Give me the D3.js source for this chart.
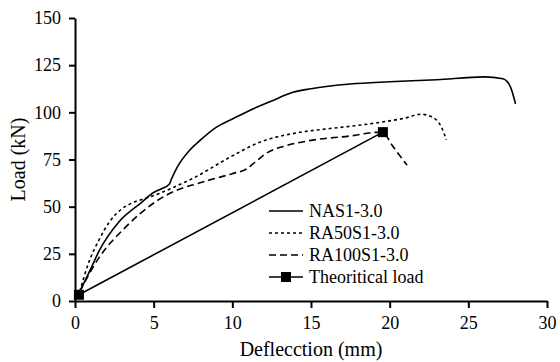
<!DOCTYPE html>
<html>
<head>
<meta charset="utf-8">
<script src="https://cdn.jsdelivr.net/npm/d3@7"></script>
<style>
  body { margin: 0; background: #fff; }
  text { font-family: "Liberation Serif", "Times New Roman", serif; fill: #000; }
</style>
</head>
<body>
<svg id="chart"></svg>
<script>
var width = 560,
  height = 362,
  margin = { top: 18, right: 13, bottom: 61, left: 75 };

// deflection (mm), load (kN)
var nasX = [0.3, 1, 1.5, 2.8, 4.2, 5, 5.5, 6, 6.15, 6.5, 7.27, 8, 8.97, 10, 11.1, 12.5, 13.85, 15, 17.5, 20, 23, 26, 27.2, 27.7, 28];
var nasY = [5, 17, 26, 42, 52, 57.5, 59.5, 62, 65, 71, 79.8, 85.5, 92, 96.5, 101, 106, 110.6, 112.5, 115, 116.2, 117.3, 118.8, 117.8, 113, 104.5];

var ra50X = [0.3, 0.9, 1.5, 2.2, 3, 3.64, 4.5, 5.35, 6.2, 7.6, 9.8, 11.7, 14.3, 16.2, 17.5, 19.4, 21, 22, 22.8, 23.3, 23.6];
var ra50Y = [5, 21, 32, 42, 49, 52, 54.5, 57, 60, 65.5, 76, 84, 89.4, 91.4, 92.6, 94.7, 97, 99, 97, 92, 85.5];

var ra100X = [0.3, 1.53, 3.2, 5.1, 6.4, 7.9, 8.7, 10, 10.9, 11.5, 12.2, 13.5, 14.9, 17.5, 19.2, 19.6, 20.2, 21.1];
var ra100Y = [5, 23, 39, 52.5, 58.5, 62.5, 64.5, 67.5, 70, 74, 78.5, 82.5, 85, 87.5, 89.4, 89, 82, 72];

var theoX = [0.25, 19.57];
var theoY = [3.3, 89.5];

var xTicks = [0, 5, 10, 15, 20, 25, 30];
var yTicks = [0, 25, 50, 75, 100, 125, 150];

var series = [
  { name: "NAS1-3.0", xs: nasX, ys: nasY, dash: null },
  { name: "RA50S1-3.0", xs: ra50X, ys: ra50Y, dash: "3,3" },
  { name: "RA100S1-3.0", xs: ra100X, ys: ra100Y, dash: "7,4" }
];

var svg = d3.select("#chart")
  .attr("width", width)
  .attr("height", height)
  .attr("font-family", "Liberation Serif");

var x = d3.scaleLinear().domain([0, 30]).range([margin.left, width - margin.right]);
var y = d3.scaleLinear().domain([0, 150]).range([height - margin.bottom, margin.top]);

var line = d3.line()
  .x(function (d) { return x(d[0]); })
  .y(function (d) { return y(d[1]); })
  .curve(d3.curveMonotoneX);

// axes
var xAxis = svg.append("g")
  .attr("transform", "translate(0," + (height - margin.bottom) + ")")
  .call(d3.axisBottom(x).tickValues(xTicks).tickSize(7).tickPadding(8).tickSizeOuter(0));
var yAxis = svg.append("g")
  .attr("transform", "translate(" + margin.left + ",0)")
  .call(d3.axisLeft(y).tickValues(yTicks).tickSize(6).tickPadding(8).tickSizeOuter(0));

[xAxis, yAxis].forEach(function (a) {
  a.attr("font-family", "Liberation Serif").attr("font-size", 18);
  a.select(".domain").attr("stroke", "#000").attr("stroke-width", 2);
  a.selectAll(".tick line").attr("stroke", "#000").attr("stroke-width", 2);
  a.selectAll(".tick text").attr("fill", "#000");
});

svg.append("text")
  .attr("x", (margin.left + width - margin.right) / 2)
  .attr("y", 356)
  .attr("text-anchor", "middle")
  .attr("font-size", 20)
  .text("Deflecction (mm)");

svg.append("text")
  .attr("transform", "translate(25," + (margin.top + height - margin.bottom) / 2 + ") rotate(-90)")
  .attr("text-anchor", "middle")
  .attr("font-size", 20)
  .text("Load (kN)");

// curves
series.forEach(function (s) {
  svg.append("path")
    .datum(d3.zip(s.xs, s.ys))
    .attr("d", line)
    .attr("fill", "none")
    .attr("stroke", "#000")
    .attr("stroke-width", 1.6)
    .attr("stroke-dasharray", s.dash);
});

var theo = d3.zip(theoX, theoY);
svg.append("path")
  .datum(theo)
  .attr("d", d3.line().x(function (d) { return x(d[0]); }).y(function (d) { return y(d[1]); }))
  .attr("fill", "none")
  .attr("stroke", "#000")
  .attr("stroke-width", 1.6);
svg.selectAll("rect.pt")
  .data(theo)
  .enter().append("rect")
  .attr("class", "pt")
  .attr("x", function (d) { return x(d[0]) - 5; })
  .attr("y", function (d) { return y(d[1]) - 5; })
  .attr("width", 10)
  .attr("height", 10)
  .attr("fill", "#000");

// legend
var legendItems = series.concat([{ name: "Theoritical load", dash: null, marker: true }]);
var legend = svg.append("g").attr("transform", "translate(269,211)");
legendItems.forEach(function (s, i) {
  var g = legend.append("g").attr("transform", "translate(0," + i * 22 + ")");
  g.append("line")
    .attr("x1", 0).attr("x2", 34).attr("y1", 0).attr("y2", 0)
    .attr("stroke", "#000")
    .attr("stroke-width", 1.6)
    .attr("stroke-dasharray", s.dash);
  if (s.marker) {
    g.append("rect").attr("x", 12).attr("y", -5).attr("width", 10).attr("height", 10).attr("fill", "#000");
  }
  g.append("text")
    .attr("x", 40)
    .attr("y", 0)
    .attr("dy", "0.35em")
    .attr("font-size", 18)
    .text(s.name);
});
</script>
</body>
</html>
